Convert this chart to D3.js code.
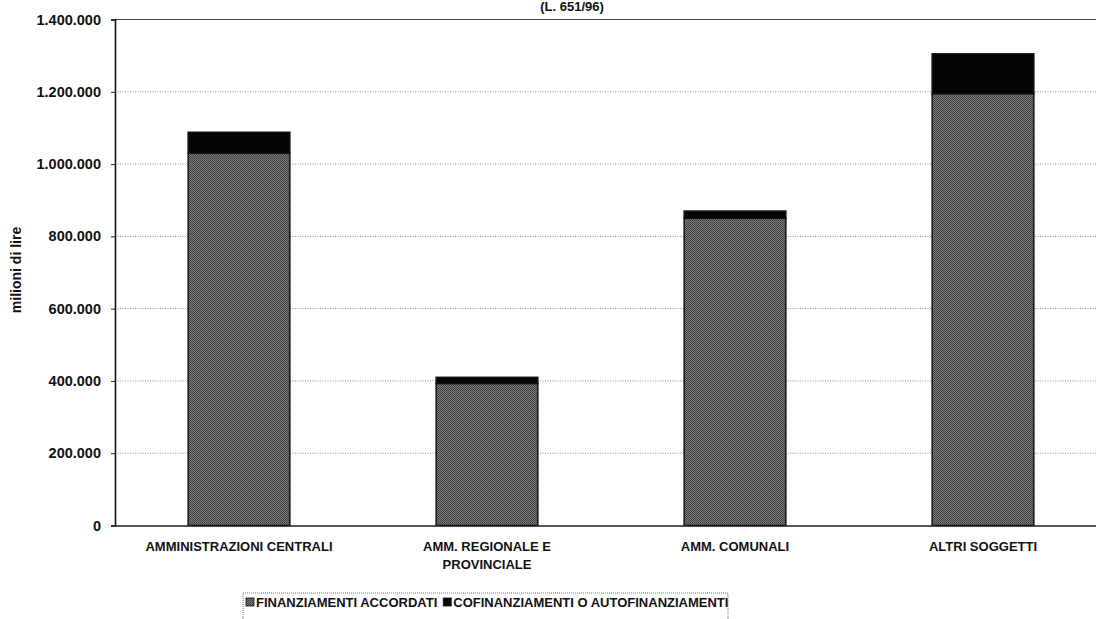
<!DOCTYPE html>
<html>
<head>
<meta charset="utf-8">
<script src="https://cdn.jsdelivr.net/npm/d3@7/dist/d3.min.js"></script>
<style>
  html, body { margin: 0; padding: 0; background: #fff; }
  svg { display: block; font-family: "Liberation Sans", Arial, sans-serif; }
</style>
</head>
<body>
<svg id="chart" width="1096" height="619"></svg>
<script>
// ---- data ----
const categories = [
  "AMMINISTRAZIONI CENTRALI",
  "AMM. REGIONALE E|PROVINCIALE",
  "AMM. COMUNALI",
  "ALTRI SOGGETTI"
];
const finanziamentiAccordati = [1030000, 393000, 850000, 1195000];
const cofinanziamenti = [58000, 17000, 20000, 110000];
const seriesNames = ["FINANZIAMENTI ACCORDATI", "COFINANZIAMENTI O AUTOFINANZIAMENTI"];
const yTicks = [0, 200000, 400000, 600000, 800000, 1000000, 1200000, 1400000];
const titleText = "(L. 651/96)";
const yLabel = "milioni di lire";

// ---- layout ----
const svg = d3.select("#chart");
const plotLeft = 115, plotRight = 1107, plotTop = 19.5, plotBottom = 525.5;

const x = d3.scaleBand().domain(categories).range([plotLeft, plotRight])
  .paddingInner(0.59).paddingOuter(0.295);
const y = d3.scaleLinear().domain([0, 1400000]).range([plotBottom, plotTop]);

// pattern for the dithered grey fill
const defs = svg.append("defs");
const pat = defs.append("pattern").attr("id", "dither")
  .attr("width", 2).attr("height", 2).attr("patternUnits", "userSpaceOnUse");
pat.append("rect").attr("width", 2).attr("height", 2).attr("fill", "#7a7a7a");
pat.append("rect").attr("width", 1).attr("height", 1).attr("fill", "#3a3a3a");
pat.append("rect").attr("x", 1).attr("y", 1).attr("width", 1).attr("height", 1).attr("fill", "#4a4a4a");

const fmt = v => d3.format(",")(v).replace(/,/g, ".");

// title (at the top edge)
svg.append("text").attr("x", 572).attr("y", 11)
  .attr("text-anchor", "middle").attr("font-weight", "bold").attr("font-size", 13)
  .attr("fill", "#111").text(titleText);

// gridlines
svg.append("g").selectAll("line").data(yTicks.filter(d => d > 0 && d < 1400000)).join("line")
  .attr("x1", plotLeft).attr("x2", plotRight).attr("y1", d => y(d)).attr("y2", d => y(d))
  .attr("stroke", "#8a8a8a").attr("stroke-width", 1).attr("stroke-dasharray", "1,1.5");

// plot top border
svg.append("line").attr("x1", plotLeft).attr("x2", plotRight).attr("y1", y(1400000)).attr("y2", y(1400000))
  .attr("stroke", "#444").attr("stroke-width", 1.2);

// y axis
const yAxis = d3.axisLeft(y).tickValues(yTicks).tickFormat(fmt).tickSize(4).tickPadding(10);
const gy = svg.append("g").attr("transform", `translate(${plotLeft},0)`).call(yAxis);
gy.select(".domain").attr("stroke", "#111").attr("stroke-width", 1.6);
gy.selectAll(".tick line").attr("stroke", "#222");
gy.selectAll(".tick text").attr("font-size", 14.5).attr("font-weight", "bold")
  .attr("fill", "#111").attr("font-family", "Liberation Sans, Arial, sans-serif");

// bars
const stackData = categories.map((c, i) => ({ c, a: finanziamentiAccordati[i], b: cofinanziamenti[i] }));
const gb = svg.append("g");
gb.selectAll("rect.a").data(stackData).join("rect").attr("class", "a")
  .attr("x", d => x(d.c)).attr("width", x.bandwidth())
  .attr("y", d => y(d.a)).attr("height", d => y(0) - y(d.a))
  .attr("fill", "url(#dither)").attr("stroke", "#111").attr("stroke-width", 1.5);
gb.selectAll("rect.b").data(stackData).join("rect").attr("class", "b")
  .attr("x", d => x(d.c)).attr("width", x.bandwidth())
  .attr("y", d => y(d.a + d.b)).attr("height", d => y(d.a) - y(d.a + d.b))
  .attr("fill", "#050505").attr("stroke", "#111").attr("stroke-width", 1.5);

// x axis baseline
const xAxis = d3.axisBottom(x).tickSize(0).tickFormat("");
const gx = svg.append("g").attr("transform", `translate(0,${plotBottom})`).call(xAxis);
gx.select(".domain").attr("stroke", "#222").attr("stroke-width", 1.4);

// category labels
const gl = svg.append("g");
stackData.forEach(d => {
  const lines = d.c.split("|");
  const t = gl.append("text").attr("x", x(d.c) + x.bandwidth() / 2).attr("y", 551)
    .attr("text-anchor", "middle").attr("font-size", 13).attr("font-weight", "bold").attr("fill", "#111");
  lines.forEach((l, i) => t.append("tspan").attr("x", x(d.c) + x.bandwidth() / 2).attr("dy", i ? 18 : 0).text(l));
});

// y label
svg.append("text").attr("transform", "translate(21,270) rotate(-90)")
  .attr("text-anchor", "middle").attr("font-size", 14).attr("font-weight", "bold")
  .attr("fill", "#111").text(yLabel);

// legend
const lg = svg.append("g");
lg.append("rect").attr("x", 243).attr("y", 593).attr("width", 485).attr("height", 40)
  .attr("fill", "none").attr("stroke", "#777").attr("stroke-dasharray", "1,1");
const legendFills = ["url(#dither)", "#050505"];
let lx = 246;
seriesNames.forEach((name, i) => {
  lg.append("rect").attr("x", lx).attr("y", 598).attr("width", 8).attr("height", 8)
    .attr("fill", legendFills[i]).attr("stroke", "#111").attr("stroke-width", 0.8);
  const t = lg.append("text").attr("x", lx + 10).attr("y", 607)
    .attr("font-size", 13).attr("font-weight", "bold").attr("fill", "#111").text(name);
  lx += 10 + t.node().getComputedTextLength() + 6;
});
</script>
</body>
</html>
